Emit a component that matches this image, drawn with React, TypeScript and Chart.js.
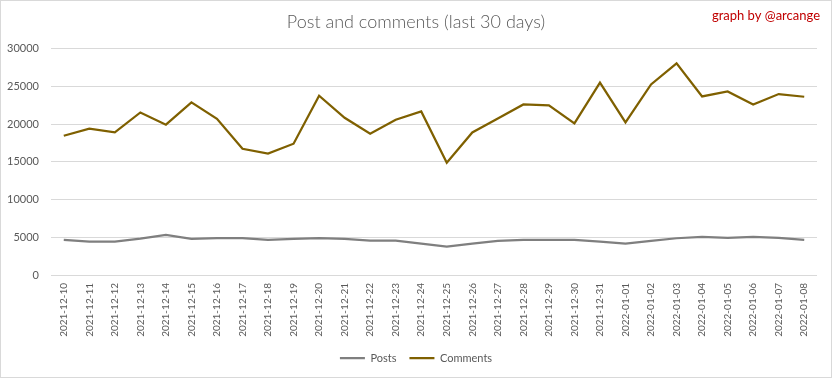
import React, { useEffect, useRef } from "react";
import { Chart, registerables } from "chart.js";

Chart.register(...registerables);

const labels = [
  "2021-12-10", "2021-12-11", "2021-12-12", "2021-12-13", "2021-12-14", "2021-12-15",
  "2021-12-16", "2021-12-17", "2021-12-18", "2021-12-19", "2021-12-20", "2021-12-21",
  "2021-12-22", "2021-12-23", "2021-12-24", "2021-12-25", "2021-12-26", "2021-12-27",
  "2021-12-28", "2021-12-29", "2021-12-30", "2021-12-31", "2022-01-01", "2022-01-02",
  "2022-01-03", "2022-01-04", "2022-01-05", "2022-01-06", "2022-01-07", "2022-01-08",
];

const posts = [
  4640, 4420, 4420, 4820, 5300, 4780, 4900, 4900, 4640, 4780, 4900, 4800,
  4550, 4550, 4150, 3760, 4150, 4510, 4640, 4640, 4640, 4420, 4150, 4510,
  4870, 5040, 4920, 5040, 4920, 4640,
];

const comments = [
  18450, 19400, 18900, 21540, 19920, 22870, 20700, 16720, 16080, 17400, 23750, 20830,
  18710, 20570, 21670, 14880, 18890, 20740, 22600, 22470, 20080, 25480, 20210, 25250,
  28040, 23660, 24320, 22600, 23980, 23620,
];

const yTicks = [0, 5000, 10000, 15000, 20000, 25000, 30000];

const FONT = 'Lato, "Liberation Sans", sans-serif';

export default function App() {
  const ref = useRef<HTMLCanvasElement | null>(null);

  useEffect(() => {
    document.body.style.margin = "0";
    const canvas = ref.current;
    if (!canvas) return;

    const decor = {
      id: "decor",
      afterDraw(chart: any) {
        const ctx = chart.ctx;
        ctx.save();
        ctx.strokeStyle = "#d9d9d9";
        ctx.lineWidth = 1;
        ctx.strokeRect(0.5, 0.5, chart.width - 1, chart.height - 1);
        ctx.fillStyle = "#c00000";
        ctx.font = `13px ${FONT}`;
        ctx.textAlign = "right";
        ctx.textBaseline = "middle";
        ctx.fillText("graph by @arcange", 820, 16);
        ctx.restore();
      },
    };

    const chart = new Chart(canvas, {
      type: "line",
      data: {
        labels,
        datasets: [
          {
            label: "Posts",
            data: posts,
            borderColor: "#7f7f7f",
            backgroundColor: "#7f7f7f",
            borderWidth: 2.25,
            pointRadius: 0,
            tension: 0,
            yAxisID: "y",
          },
          {
            label: "Comments",
            data: comments,
            borderColor: "#7f6000",
            backgroundColor: "#7f6000",
            borderWidth: 2.25,
            pointRadius: 0,
            tension: 0,
            yAxisID: "y",
          },
        ],
      },
      options: {
        responsive: false,
        animation: false,
        layout: { padding: { top: 0, left: 0, right: 0, bottom: 4.5 } },
        plugins: {
          title: {
            display: true,
            text: "Post and comments (last 30 days)",
            color: "#595959",
            font: { family: FONT, size: 18, weight: "300" as any },
            padding: { top: 11, bottom: 16 },
          },
          legend: {
            display: true,
            position: "bottom",
            labels: {
              usePointStyle: true,
              pointStyle: "line",
              pointStyleWidth: 25,
              boxHeight: 11,
              padding: 13,
              color: "#595959",
              font: { family: FONT, size: 11 },
            },
          },
          tooltip: { enabled: false },
        },
        scales: {
          x: {
            type: "category",
            offset: true,
            grid: { display: false },
            border: { display: false },
            ticks: {
              color: "#595959",
              font: { family: FONT, size: 10 },
              minRotation: 90,
              maxRotation: 90,
              autoSkip: false,
              padding: 0,
            },
            afterFit: (s: any) => {
              s.height = 64.5;
            },
          },
          y: {
            position: "left",
            min: 0,
            max: 30000,
            afterBuildTicks: (s: any) => {
              s.ticks = yTicks.map((v) => ({ value: v }));
            },
            grid: { color: "#d9d9d9", lineWidth: 1, drawTicks: false },
            border: { display: false },
            ticks: {
              color: "#595959",
              font: { family: FONT, size: 11 },
              padding: 12,
              callback: (v: any) => String(v),
            },
            afterFit: (s: any) => {
              s.width = 51;
            },
          },
          yr: {
            position: "right",
            display: true,
            grid: { display: false, drawTicks: false },
            border: { display: false },
            ticks: { display: false },
            afterFit: (s: any) => {
              s.width = 15;
            },
          },
        },
      },
      plugins: [decor],
    });

    return () => chart.destroy();
  }, []);

  return <canvas ref={ref} width={832} height={378} style={{ display: "block" }} />;
}
